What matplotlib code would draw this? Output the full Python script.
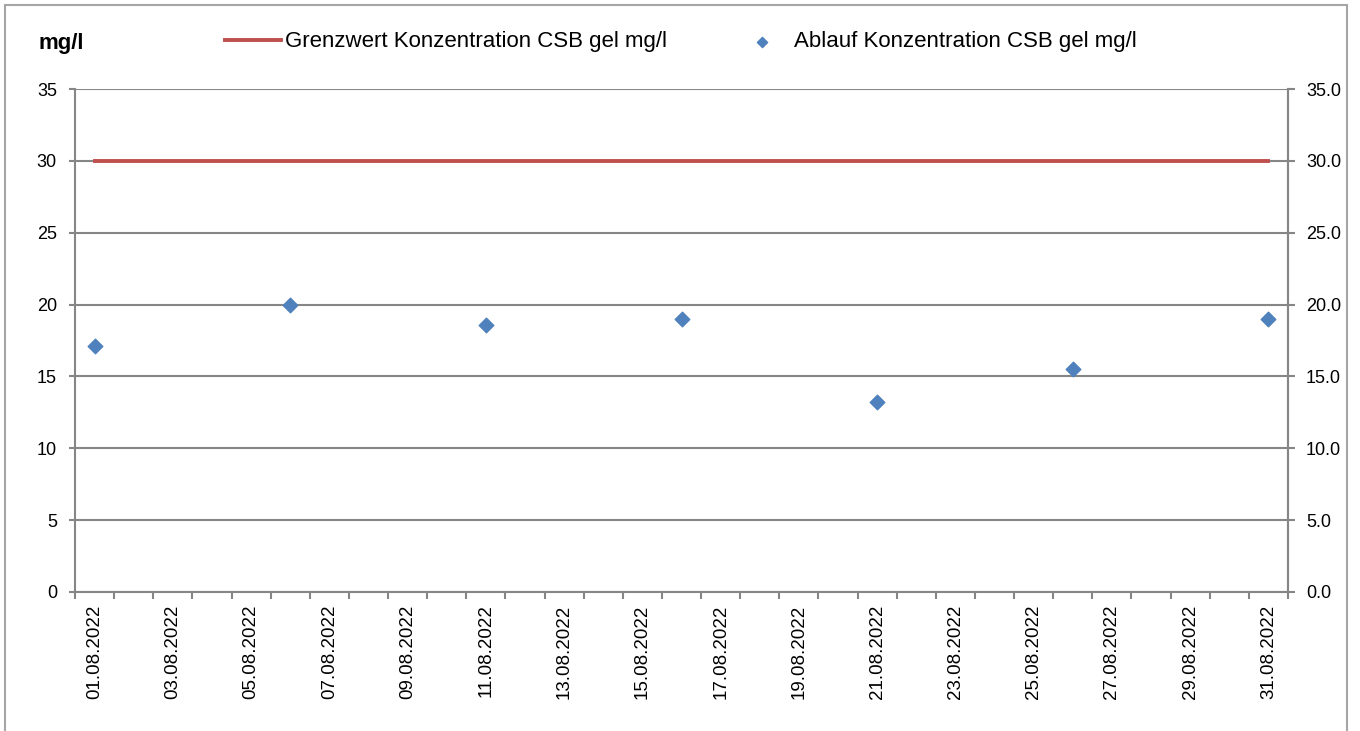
import matplotlib.pyplot as plt
from matplotlib.patches import Rectangle

plt.rcParams['font.family'] = ['Liberation Sans', 'DejaVu Sans']

# all days of the category axis
days = ['%02d.08.2022' % d for d in range(1, 32)]

# limit value (constant over the month)
grenzwert = [30.0] * len(days)

# measured samples
probe_tage = ['01.08.2022', '06.08.2022', '11.08.2022', '16.08.2022',
              '21.08.2022', '26.08.2022', '31.08.2022']
probe_werte = [17.1, 20.0, 18.6, 19.0, 13.2, 15.5, 19.0]

grau = '#868686'

fig = plt.figure(figsize=(13.6, 7.31), dpi=100)
ax = fig.add_axes([75 / 1360, 1 - 592 / 731, (1288 - 75) / 1360, (592 - 89) / 731])

x_all = list(range(len(days)))
x_probe = [days.index(d) for d in probe_tage]

ax.plot(x_all, grenzwert, color='#c0504d', lw=2.8, zorder=3,
        label='Grenzwert Konzentration CSB gel mg/l')
ax.scatter(x_probe, probe_werte, marker='D', s=55, color='#4f81bd', zorder=4,
           label='Ablauf Konzentration CSB gel mg/l')

ax.set_xlim(-0.5, len(days) - 0.5)
ax.set_ylim(0, 35)
ax.set_yticks(range(0, 36, 5))
ax.yaxis.grid(True, color=grau, lw=1.5)
ax.set_axisbelow(True)

# ticks at category boundaries, labels at every 2nd category centre
ax.set_xticks([i - 0.5 for i in range(len(days) + 1)])
ax.set_xticklabels([])
ax.set_xticks(x_all[::2], minor=True)
ax.set_xticklabels(days[::2], minor=True, rotation=90, fontsize=13.5)
ax.tick_params(axis='x', which='major', length=5, color=grau, width=1.5)
ax.tick_params(axis='x', which='minor', length=0, pad=9)
ax.tick_params(axis='y', length=4, color=grau, width=1.5, labelsize=13, pad=9)

for s in ['left', 'bottom', 'right']:
    ax.spines[s].set_color(grau)
    ax.spines[s].set_linewidth(1.5)
ax.spines['top'].set_visible(False)

ax2 = ax.twinx()
ax2.set_ylim(0, 35)
ax2.set_yticks(range(0, 36, 5))
ax2.set_yticklabels(['%.1f' % v for v in range(0, 36, 5)])
ax2.tick_params(axis='y', length=5, color=grau, width=1.5, labelsize=13, pad=8)
for s in ['left', 'bottom', 'top']:
    ax2.spines[s].set_visible(False)
ax2.spines['right'].set_color(grau)
ax2.spines['right'].set_linewidth(1.5)

fig.text(38 / 1360, 1 - 44 / 731, 'mg/l', fontsize=16, fontweight='bold', va='center')

fig.legend(loc='center', bbox_to_anchor=(681 / 1360, 1 - 42 / 731), ncol=2,
           frameon=False, fontsize=16, handlelength=2.5, handletextpad=0.2,
           columnspacing=3.0, markerscale=0.7)

fig.patches.append(Rectangle((5 / 1360, -0.01), 1342 / 1360, 1 - 5 / 731 + 0.01,
                             transform=fig.transFigure, fill=False,
                             edgecolor='#a6a6a6', lw=1.5))

fig.savefig('out.png', dpi=100)
